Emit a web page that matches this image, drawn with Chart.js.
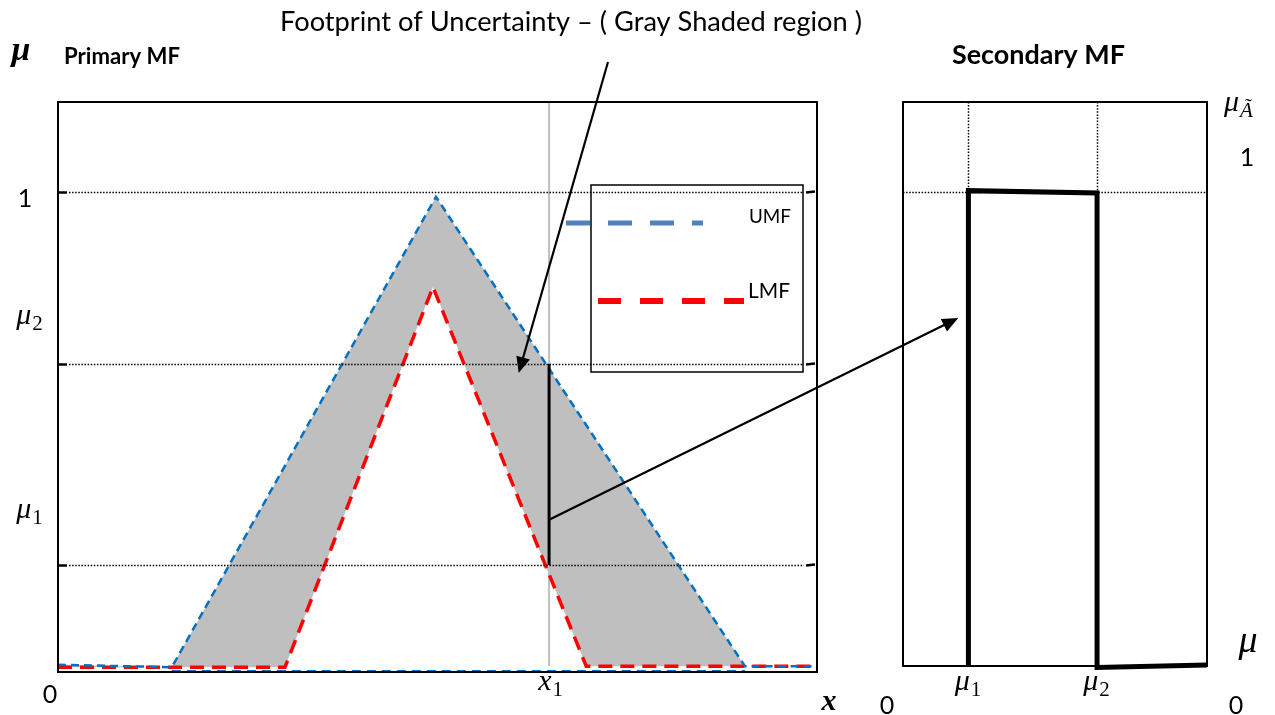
<!DOCTYPE html>
<html><head><meta charset="utf-8">
<script src="https://cdn.jsdelivr.net/npm/chart.js@4"></script>
<style>
html,body{margin:0;padding:0;background:#fff;overflow:hidden}
#wrap{position:relative;width:1275px;height:715px;background:#fff}
canvas{position:absolute;left:0;top:0}
</style></head><body>
<div id="wrap"><canvas id="c1" width="1275" height="715"></canvas><canvas id="c2" width="1275" height="715"></canvas></div>
<script>
// ---- data ----
const umfX = [0, 15, 49.8, 90.5, 100];
const umfY = [0.015, 0.01, 0.99, 0.012, 0.012];
const lmfX = [0, 29.9, 49.4, 69.6, 100];
const lmfY = [0.01, 0.01, 0.802, 0.012, 0.012];
const baseX = [15, 90.5];
const baseY = [0.002, 0.002];
const x1 = 64.7;
const mu1 = 0.223;
const mu2 = 0.642;
const levels = [1, mu2, mu1];
const secX = [mu1, mu1, mu2, mu2, 1];
const secY = [0, 1.003, 0.998, -0.003, 0.002];
const seriesNames = ['UMF', 'LMF'];
const titleText = 'Footprint of Uncertainty \u2013 ( Gray Shaded region )';
const primaryTitle = 'Primary MF';
const secondaryTitle = 'Secondary MF';
// annotation anchors (data coords)
const arrow1Tip = [60.7, 0.623];
const arrow2Start = [x1, 0.317];
const arrow2Tip = [0.19, 0.734];

const pts = (xs, ys) => xs.map((v, i) => ({x: v, y: ys[i]}));
const SANS = 'Lato, "Open Sans", sans-serif';
const SERIF = '"Liberation Serif", "DejaVu Serif", serif';

function fitText(ctx, text, left, midY, weight, width) {
  ctx.font = weight + ' 20px ' + SANS;
  const w = ctx.measureText(text).width;
  const size = 20 * width / w;
  ctx.font = weight + ' ' + size.toFixed(2) + 'px ' + SANS;
  ctx.textAlign = 'left'; ctx.textBaseline = 'middle'; ctx.fillStyle = '#000';
  ctx.fillText(text, left, midY);
}
function plainText(ctx, text, cx, midY, size) {
  ctx.font = size + 'px ' + SANS;
  ctx.textAlign = 'center'; ctx.textBaseline = 'middle'; ctx.fillStyle = '#000';
  ctx.fillText(text, cx, midY);
}
function mathSym(ctx, sym, sub, cx, midY, size, subItalic) {
  ctx.fillStyle = '#000';
  ctx.textBaseline = 'alphabetic';
  ctx.font = 'italic ' + size + 'px ' + SERIF;
  const w1 = ctx.measureText(sym).width;
  const subSize = Math.round(size * 0.7);
  ctx.font = (subItalic ? 'italic ' : '') + subSize + 'px ' + SERIF;
  const w2 = sub ? ctx.measureText(sub).width : 0;
  const left = cx - (w1 + w2) / 2;
  const base = midY + size * 0.22;
  ctx.font = 'italic ' + size + 'px ' + SERIF;
  ctx.textAlign = 'left';
  ctx.fillText(sym, left, base);
  if (sub) {
    ctx.font = (subItalic ? 'italic ' : '') + subSize + 'px ' + SERIF;
    ctx.fillText(sub, left + w1 + 1, base + size * 0.2);
  }
}
function arrow(ctx, x0, y0, x1p, y1p) {
  const ang = Math.atan2(y1p - y0, x1p - x0);
  const L = 16, H = 7;
  ctx.save();
  ctx.strokeStyle = '#000'; ctx.fillStyle = '#000'; ctx.lineWidth = 2.2; ctx.setLineDash([]);
  ctx.beginPath(); ctx.moveTo(x0, y0);
  ctx.lineTo(x1p - Math.cos(ang) * (L - 2), y1p - Math.sin(ang) * (L - 2)); ctx.stroke();
  ctx.beginPath();
  ctx.moveTo(x1p, y1p);
  ctx.lineTo(x1p - Math.cos(ang) * L - Math.sin(ang) * H, y1p - Math.sin(ang) * L + Math.cos(ang) * H);
  ctx.lineTo(x1p - Math.cos(ang) * L + Math.sin(ang) * H, y1p - Math.sin(ang) * L - Math.cos(ang) * H);
  ctx.closePath(); ctx.fill();
  ctx.restore();
}

const pane1 = {
  id: 'pane1',
  beforeDatasetsDraw(chart) {
    const {ctx, chartArea: a, scales: {x}} = chart;
    ctx.save();
    const px = x.getPixelForValue(x1);
    ctx.strokeStyle = '#bfbfbf'; ctx.lineWidth = 2;
    ctx.beginPath(); ctx.moveTo(px, a.top); ctx.lineTo(px, a.bottom - 6); ctx.stroke();
    ctx.restore();
  },
  afterDatasetsDraw(chart) {
    const {ctx, chartArea: a, scales: {x, y}} = chart;
    ctx.save();
    // dotted levels
    ctx.strokeStyle = '#000'; ctx.lineWidth = 1.5; ctx.setLineDash([1.5, 1.6]);
    levels.forEach(v => {
      const py = Math.round(y.getPixelForValue(v)) + 0.5;
      ctx.beginPath(); ctx.moveTo(a.left + 11, py); ctx.lineTo(a.right - 13, py); ctx.stroke();
    });
    ctx.setLineDash([]);
    // black segment at x1
    const px = x.getPixelForValue(x1);
    ctx.lineWidth = 3;
    ctx.beginPath(); ctx.moveTo(px, y.getPixelForValue(mu2)); ctx.lineTo(px, y.getPixelForValue(mu1)); ctx.stroke();
    // frame
    ctx.lineWidth = 2;
    ctx.strokeRect(a.left, a.top, a.right - a.left, a.bottom - a.top);
    // ticks
    ctx.lineWidth = 2.5;
    levels.forEach(v => {
      const py = Math.round(y.getPixelForValue(v)) + 0.5;
      ctx.beginPath(); ctx.moveTo(a.left, py); ctx.lineTo(a.left + 9, py); ctx.stroke();
      ctx.beginPath(); ctx.moveTo(a.right - 11, py); ctx.lineTo(a.right - 2, py - 1); ctx.stroke();
    });
    // legend box
    ctx.lineWidth = 1.5;
    ctx.strokeRect(591, 185, 212, 187);
    ctx.lineWidth = 5; ctx.strokeStyle = '#4f81bd'; ctx.setLineDash([24, 18]);
    ctx.beginPath(); ctx.moveTo(566, 223); ctx.lineTo(703, 223); ctx.stroke();
    ctx.lineWidth = 6; ctx.strokeStyle = '#ff0000'; ctx.setLineDash([23, 19]);
    ctx.beginPath(); ctx.moveTo(598, 301); ctx.lineTo(744, 301); ctx.stroke();
    ctx.setLineDash([]);
    fitText(ctx, seriesNames[0], 749, 217, 'normal', 42);
    fitText(ctx, seriesNames[1], 748, 291, 'normal', 42);
    // texts
    fitText(ctx, titleText, 280, 22, 'normal', 582);
    fitText(ctx, primaryTitle, 64, 57, 'bold', 116);
    ctx.font = 'bold italic 34px ' + SERIF; ctx.textAlign = 'center'; ctx.textBaseline = 'alphabetic';
    ctx.fillText('\u03bc', 21, 60);
    plainText(ctx, '1', 25, y.getPixelForValue(1) + 7, 25);
    mathSym(ctx, '\u03bc', '2', 29, y.getPixelForValue(mu2) - 46, 30);
    mathSym(ctx, '\u03bc', '1', 29, y.getPixelForValue(mu1) - 54, 30);
    plainText(ctx, '0', 50, 695, 25);
    mathSym(ctx, 'x', '1', px + 1, 683, 30);
    ctx.font = 'bold italic 30px ' + SERIF; ctx.textAlign = 'center'; ctx.textBaseline = 'alphabetic';
    ctx.fillText('x', 829, 710);
    ctx.restore();
  }
};

const c1 = new Chart(document.getElementById('c1'), {
  type: 'line',
  data: {
    datasets: [
      {label: seriesNames[0], data: pts(umfX, umfY), borderColor: '#0070c0', borderWidth: 2.5,
       borderDash: [8, 5], fill: '+1', backgroundColor: '#bfbfbf', pointRadius: 0, tension: 0},
      {label: seriesNames[1], data: pts(lmfX, lmfY), borderColor: '#ff0000', borderWidth: 3.5,
       borderDash: [14, 8], fill: false, pointRadius: 0, tension: 0},
      {label: 'base', data: pts(baseX, baseY), borderColor: '#0070c0', borderWidth: 2,
       borderDash: [9, 6], fill: false, pointRadius: 0, tension: 0}
    ]
  },
  options: {
    responsive: false, animation: false, devicePixelRatio: 1,
    layout: {padding: {left: 58, top: 102, right: 458, bottom: 43}},
    scales: {
      x: {type: 'linear', min: 0, max: 100, display: false},
      y: {type: 'linear', min: 0, max: 1.1875, display: false}
    },
    plugins: {legend: {display: false}, tooltip: {enabled: false}, filler: {drawTime: 'beforeDatasetsDraw'}}
  },
  plugins: [pane1]
});

const pane2 = {
  id: 'pane2',
  beforeDatasetsDraw(chart) {
    const {ctx, chartArea: a, scales: {x, y}} = chart;
    ctx.save();
    ctx.strokeStyle = '#000'; ctx.lineWidth = 1.5; ctx.setLineDash([1.5, 1.6]);
    const py = Math.round(y.getPixelForValue(1)) + 0.5;
    ctx.beginPath(); ctx.moveTo(a.left, py); ctx.lineTo(a.right, py); ctx.stroke();
    [mu1, mu2].forEach(v => {
      const px = Math.round(x.getPixelForValue(v)) + 0.5;
      ctx.beginPath(); ctx.moveTo(px, a.top); ctx.lineTo(px, py); ctx.stroke();
    });
    ctx.restore();
  },
  afterDraw(chart) {
    const {ctx, chartArea: a, scales: {x, y}} = chart;
    ctx.save();
    ctx.strokeStyle = '#000'; ctx.lineWidth = 2; ctx.setLineDash([]);
    ctx.strokeRect(a.left, a.top, a.right - a.left, a.bottom - a.top);
    fitText(ctx, secondaryTitle, 952, 55, 'bold', 173);
    mathSym(ctx, '\u03bc', '\u00c3', 1238, 104, 30, true);
    plainText(ctx, '1', 1247, 158, 25);
    mathSym(ctx, '\u03bc', '', 1248, 644, 38);
    plainText(ctx, '0', 887, 706, 25);
    plainText(ctx, '0', 1236, 706, 25);
    mathSym(ctx, '\u03bc', '1', x.getPixelForValue(mu1) - 1, 683, 30);
    mathSym(ctx, '\u03bc', '2', x.getPixelForValue(mu2) - 1, 683, 30);
    // arrows
    const s1 = c1.scales;
    arrow(ctx, 608, 62, s1.x.getPixelForValue(arrow1Tip[0]), s1.y.getPixelForValue(arrow1Tip[1]));
    arrow(ctx, s1.x.getPixelForValue(arrow2Start[0]), s1.y.getPixelForValue(arrow2Start[1]),
          x.getPixelForValue(arrow2Tip[0]), y.getPixelForValue(arrow2Tip[1]));
    ctx.restore();
  }
};

new Chart(document.getElementById('c2'), {
  type: 'line',
  data: {datasets: [{label: 'Secondary MF', data: pts(secX, secY), borderColor: '#000', borderWidth: 5,
    borderJoinStyle: 'miter', borderCapStyle: 'butt', fill: false, pointRadius: 0, tension: 0, clip: false}]},
  options: {
    responsive: false, animation: false, devicePixelRatio: 1,
    layout: {padding: {left: 903, top: 102, right: 68, bottom: 49}},
    scales: {
      x: {type: 'linear', min: 0.01, max: 1, display: false},
      y: {type: 'linear', min: 0, max: 1.19, display: false}
    },
    plugins: {legend: {display: false}, tooltip: {enabled: false}}
  },
  plugins: [pane2]
});
</script>
</body></html>
